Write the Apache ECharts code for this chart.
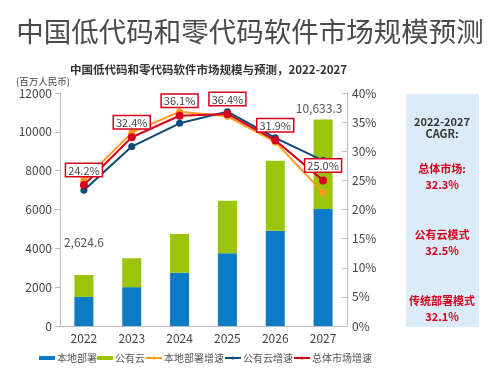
<!DOCTYPE html>
<html>
<head>
<meta charset="utf-8">
<script src="https://cdn.jsdelivr.net/npm/echarts@6/dist/echarts.min.js"></script>
<style>
  html, body { margin: 0; padding: 0; background: #fff; }
  #chart { width: 500px; height: 377px; }
</style>
</head>
<body>
<div id="chart"></div>
<script>
// 数据
const years = ['2022', '2023', '2024', '2025', '2026', '2027']
const localDeploy = [1500, 2000, 2745, 3745, 4910, 6030]   // 本地部署
const publicCloud = [1124.6, 1490, 1995, 2710, 3605, 4603.3] // 公有云
const localGrowth = [25.0, 33.2, 36.8, 36.0, 31.6, 22.9]   // 本地部署增速
const cloudGrowth = [23.3, 30.8, 34.8, 36.8, 32.3, 28.4]   // 公有云增速
const totalGrowth = [24.2, 32.4, 36.1, 36.4, 31.9, 25.0]   // 总体市场增速
const totalLabelIdx = [0, 5]
const cagrLines = [
  ['2022-2027', 'CAGR:'],
  ['总体市场:', '32.3%'],
  ['公有云模式', '32.5%'],
  ['传统部署模式', '32.1%']
]

const font = '"Noto Sans CJK SC", "Noto Sans", sans-serif'
const blue = '#0a7bc4'
const green = '#9cc40a'
const orange = '#ff9a1a'
const navy = '#0c4a78'
const red = '#d6001c'
const axisColor = '#bdbdbd'

const chart = echarts.init(document.getElementById('chart'))

const fmtNum = v => v.toLocaleString('en-US', { minimumFractionDigits: 1, maximumFractionDigits: 1 })

// 柱顶总额标签（只标首尾两年），挂在公有云柱的 markPoint 上
const totalMarks = totalLabelIdx.map(i => ({
  coord: [years[i], localDeploy[i] + publicCloud[i]],
  value: localDeploy[i] + publicCloud[i],
  label: { offset: i === 0 ? [0, -33] : [-4, -11] }
}))

// CAGR 文本块
const cagrText = []
const cagrY = [122, 169, 235, 301]
cagrLines.forEach((pair, k) => {
  pair.forEach((t, j) => {
    cagrText.push({
      type: 'text',
      x: 442,
      y: cagrY[k] + j * (k === 0 ? 11.5 : 16),
      style: {
        text: t,
        align: 'center',
        verticalAlign: 'middle',
        fill: k === 0 ? '#333' : red,
        font: 'bold 11px ' + font
      }
    })
  })
})

const option = {
  animation: false,
  title: [
    {
      text: '中国低代码和零代码软件市场规模预测',
      left: 'center',
      top: 13,
      textStyle: { fontSize: 27.5, fontWeight: 'normal', color: '#4a4a4a', fontFamily: font }
    },
    {
      text: '中国低代码和零代码软件市场规模与预测，2022-2027',
      left: 65,
      top: 59,
      textStyle: { fontSize: 11.5, fontWeight: 'bold', color: '#333', fontFamily: font }
    },
    {
      text: '(百万人民币)',
      left: 11,
      top: 72,
      textStyle: { fontSize: 9.5, fontWeight: 'normal', color: '#444', fontFamily: font }
    }
  ],
  legend: {
    bottom: 9,
    left: 34,
    itemGap: 0,
    itemWidth: 16,
    itemHeight: 4,
    textStyle: { fontSize: 10, color: '#555', fontFamily: font, padding: [0, 0, 0, -3] },
    data: [
      { name: '本地部署', icon: 'rect' },
      { name: '公有云', icon: 'rect' },
      '本地部署增速', '公有云增速', '总体市场增速'
    ]
  },
  grid: { left: 60, right: 153, top: 93, bottom: 51 },
  xAxis: {
    type: 'category',
    data: years,
    axisLine: { lineStyle: { color: axisColor } },
    axisTick: { lineStyle: { color: axisColor } },
    axisLabel: { color: '#444', fontSize: 12, fontFamily: font, margin: 6 }
  },
  yAxis: [
    {
      type: 'value',
      min: 0, max: 12000, interval: 2000,
      axisLine: { show: true, lineStyle: { color: axisColor } },
      axisTick: { show: true, lineStyle: { color: axisColor } },
      splitLine: { show: false },
      axisLabel: { color: '#444', fontSize: 12, fontFamily: font, margin: 8, formatter: v => String(v) }
    },
    {
      type: 'value',
      min: 0, max: 40, interval: 5,
      axisLine: { show: true, lineStyle: { color: axisColor } },
      axisTick: { show: true, inside: true, lineStyle: { color: axisColor } },
      splitLine: { show: false },
      axisLabel: { color: '#444', fontSize: 12, fontFamily: font, margin: 5, formatter: '{value}%' }
    }
  ],
  series: [
    {
      name: '本地部署', type: 'bar', stack: 'total', barWidth: 19,
      itemStyle: { color: blue }, data: localDeploy
    },
    {
      name: '公有云', type: 'bar', stack: 'total', barWidth: 19,
      itemStyle: { color: green }, data: publicCloud,
      markPoint: {
        silent: true,
        symbol: 'circle',
        symbolSize: 1,
        itemStyle: { color: 'rgba(0,0,0,0)' },
        label: {
          show: true, position: 'inside',
          color: '#555', fontSize: 12, fontFamily: font,
          formatter: p => fmtNum(p.value)
        },
        data: totalMarks
      }
    },
    {
      name: '本地部署增速', type: 'line', yAxisIndex: 1,
      symbol: 'circle', symbolSize: 7,
      lineStyle: { color: orange, width: 2 }, itemStyle: { color: orange },
      data: localGrowth
    },
    {
      name: '公有云增速', type: 'line', yAxisIndex: 1,
      symbol: 'circle', symbolSize: 7,
      lineStyle: { color: navy, width: 2 }, itemStyle: { color: navy },
      data: cloudGrowth
    },
    {
      name: '总体市场增速', type: 'line', yAxisIndex: 1, z: 4,
      symbol: 'circle', symbolSize: 8,
      lineStyle: { color: red, width: 2 }, itemStyle: { color: red },
      label: {
        show: true, position: 'top', distance: 5,
        formatter: p => p.value.toFixed(1) + '%',
        color: '#444', fontSize: 11, fontFamily: font,
        backgroundColor: '#fff', borderColor: red, borderWidth: 1.5,
        padding: [1, 2, 0, 2]
      },
      data: totalGrowth
    }
  ],
  graphic: [
    {
      type: 'rect', left: 406, top: 94, z: -1,
      shape: { width: 73, height: 233 },
      style: { fill: '#dcebf8' }
    },
    ...cagrText
  ]
}

chart.setOption(option)
</script>
</body>
</html>
